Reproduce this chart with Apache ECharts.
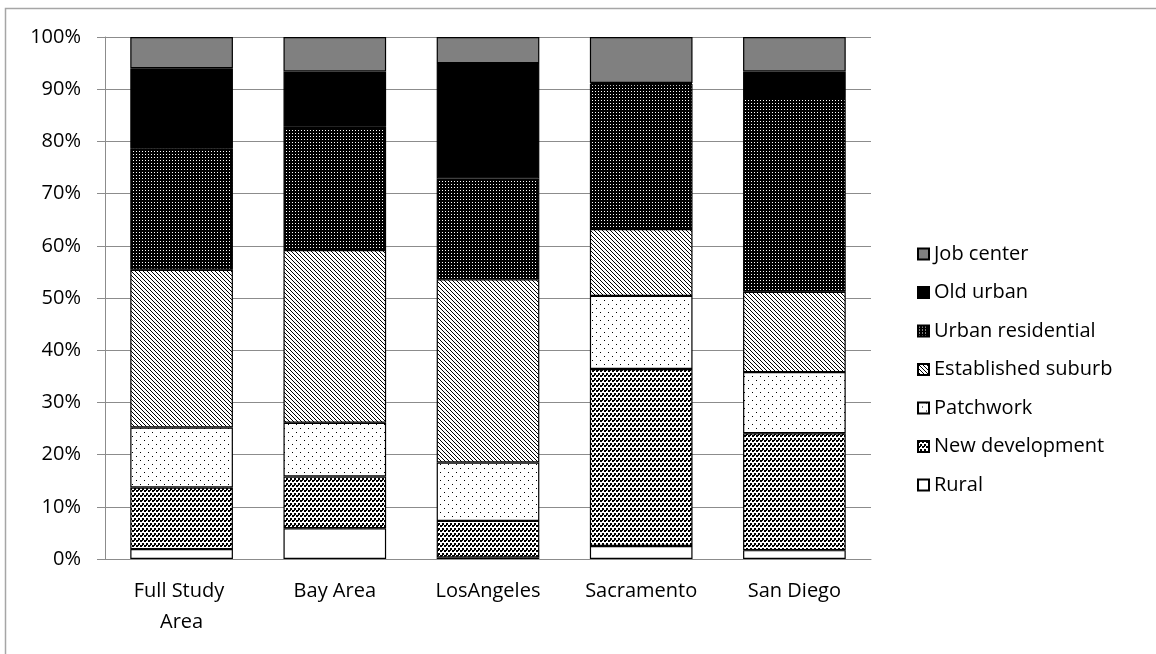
<!DOCTYPE html>
<html>
<head>
<meta charset="utf-8">
<script src="https://cdn.jsdelivr.net/npm/echarts@6/dist/echarts.min.js"></script>
<style>
  html, body { margin: 0; padding: 0; background: #fff; }
  #main { width: 1156px; height: 654px; }
</style>
</head>
<body>
<div id="main"></div>
<script>
// data, bottom to top
const categories = ["Full Study Area", "Bay Area", "LosAngeles", "Sacramento", "San Diego"];
const rural = [1.9, 5.9, 0.3, 2.5, 1.7];
const newDevelopment = [11.8, 9.9, 7.0, 33.9, 22.4];
const patchwork = [11.5, 10.3, 11.2, 14.0, 11.7];
const establishedSuburb = [30.2, 33.1, 35.1, 12.8, 15.4];
const urbanResidential = [23.3, 23.6, 19.3, 27.8, 37.1];
const oldUrban = [15.3, 10.6, 22.1, 0.2, 5.1];
const jobCenter = [6.0, 6.6, 5.0, 8.8, 6.6];
const legendOrder = ["Job center", "Old urban", "Urban residential", "Established suburb", "Patchwork", "New development", "Rural"];

// small tiled patterns (like the excel fills)
function makePattern(w, h, bg, fg, cells) {
  const c = document.createElement("canvas");
  c.width = w;
  c.height = h;
  const ctx = c.getContext("2d");
  ctx.fillStyle = bg;
  ctx.fillRect(0, 0, w, h);
  ctx.fillStyle = fg;
  cells.forEach(function (p) {
    ctx.fillRect(p[0], p[1], p[2], p[3]);
  });
  return { image: c, repeat: "repeat" };
}

const fills = {
  rural: "#ffffff",
  newDev: makePattern(4, 5, "#fff", "#000", [[0, 0, 2, 2], [2, 3, 2, 2], [2, 0, 1, 1]]),
  patch: makePattern(8, 8, "#fff", "#000", [[0, 0, 1, 1], [4, 4, 1, 1]]),
  suburb: makePattern(4, 4, "#fff", "#000", [[0, 0, 1, 1], [1, 1, 1, 1], [2, 2, 1, 1], [3, 3, 1, 1]]),
  urbRes: makePattern(3, 3, "#000", "#fff", [[1, 1, 1, 1]]),
  old: "#000000",
  job: "#808080",
};

const font = "Open Sans";

function barSeries(name, data, color) {
  return {
    name: name,
    type: "bar",
    stack: "total",
    barWidth: "67%",
    data: data,
    itemStyle: {
      color: color,
      borderColor: "#000",
      borderWidth: 1.2,
    },
    emphasis: { disabled: true },
  };
}

const chart = echarts.init(document.getElementById("main"));

const option = {
  animation: false,
  backgroundColor: "#fff",
  graphic: [
    {
      type: "rect",
      shape: { x: 5.5, y: 8.5, width: 1200, height: 700 },
      style: { fill: "none", stroke: "#a6a6a6", lineWidth: 1.5 },
      silent: true,
    },
  ],
  grid: { left: 105, right: 285, top: 37, bottom: 95 },
  legend: {
    orient: "vertical",
    left: 912,
    top: 238,
    data: legendOrder,
    icon: "rect",
    itemWidth: 11,
    itemHeight: 11,
    itemGap: 16.5,
    textStyle: { fontFamily: font, fontSize: 20, lineHeight: 22, color: "#000" },
  },
  xAxis: {
    type: "category",
    data: categories,
    axisLine: { lineStyle: { color: "#8c8c8c", width: 1 } },
    axisTick: { length: 8, lineStyle: { color: "#8c8c8c" } },
    axisLabel: {
      fontFamily: font,
      fontSize: 20,
      lineHeight: 31,
      color: "#000",
      margin: 17,
      width: 130,
      overflow: "break",
      interval: 0,
    },
  },
  yAxis: {
    type: "value",
    min: 0,
    max: 100,
    interval: 10,
    axisLine: { show: true, lineStyle: { color: "#8c8c8c", width: 1 } },
    axisTick: { show: true, length: 8, lineStyle: { color: "#8c8c8c" } },
    splitLine: { lineStyle: { color: "#8c8c8c", width: 1 } },
    axisLabel: {
      formatter: "{value}%",
      fontFamily: font,
      fontSize: 20,
      color: "#000",
      margin: 24,
    },
  },
  series: [
    barSeries("Rural", rural, fills.rural),
    barSeries("New development", newDevelopment, fills.newDev),
    barSeries("Patchwork", patchwork, fills.patch),
    barSeries("Established suburb", establishedSuburb, fills.suburb),
    barSeries("Urban residential", urbanResidential, fills.urbRes),
    barSeries("Old urban", oldUrban, fills.old),
    barSeries("Job center", jobCenter, fills.job),
  ],
};

chart.setOption(option);
</script>
</body>
</html>
